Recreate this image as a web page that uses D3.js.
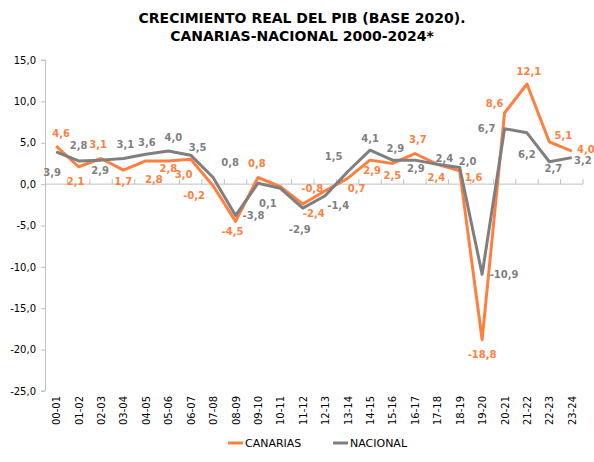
<!DOCTYPE html>
<html>
<head>
<meta charset="utf-8">
<script src="https://cdn.jsdelivr.net/npm/d3@7"></script>
<style>
  body { margin: 0; background: #fff; }
  text { font-family: "DejaVu Sans", Verdana, sans-serif; }
</style>
</head>
<body>
<div id="chart"></div>
<script>
const periodos = ["00-01","01-02","02-03","03-04","04-05","05-06","06-07","07-08","08-09","09-10","10-11","11-12",
                  "12-13","13-14","14-15","15-16","16-17","17-18","18-19","19-20","20-21","21-22","22-23","23-24"];
const canarias = [4.6, 2.1, 3.1, 1.7, 2.8, 2.8, 3.0, -0.2, -4.5, 0.8, -0.3, -2.4,
                  -0.8, 0.7, 2.9, 2.5, 3.7, 2.4, 1.6, -18.8, 8.6, 12.1, 5.1, 4.0];
const nacional = [3.9, 2.8, 2.9, 3.1, 3.6, 4.0, 3.5, 0.8, -3.8, 0.1, -0.5, -2.9,
                  -1.4, 1.5, 4.1, 2.9, 2.9, 2.4, 2.0, -10.9, 6.7, 6.2, 2.7, 3.2];
const yTicks = [15, 10, 5, 0, -5, -10, -15, -20, -25];

// desplazamiento de cada etiqueta respecto a su punto (null = sin etiqueta)
const posCanarias = [[5,-13],[-3,15],[-3,-14],[0,11],[8,18],[0,7],[-7,15],[-19,10],[-3,10],[-1,-14],null,[11,9],
                     [-13,-2],[9,10],[2,10],[0,12],[3,-14],[-1,13],[14,7],[0,15],[-10,-10],[2,-13],[14,-7],[14,-2]];
const posNacional = [[-4,21],[0,-16],[-1,10],[2,-14],[1,-12],[5,-14],[7,-8],[17,-15],[18,0],[10,20],null,[-3,21],
                     [13,10],[-14,-15],[0,-12],[3,-12],[1,8],[7,-6],[8,-6],[22,0],[-18,0],[0,22],[4,7],[11,3]];

const series = [
  { nombre: "CANARIAS", valores: canarias, pos: posCanarias, color: "#FF7F3F" },
  { nombre: "NACIONAL", valores: nacional, pos: posNacional, color: "#7F7F7F" }
];

const width = 594, height = 462;
const es = d3.formatLocale({ decimal: ",", thousands: ".", grouping: [3], currency: ["", "€"], minus: "-" });
const fmt = es.format(".1f");

const svg = d3.select("#chart").append("svg")
  .attr("width", width)
  .attr("height", height);

// titulo
const titulo = svg.append("text")
  .attr("text-anchor", "middle")
  .attr("font-size", "14px")
  .attr("font-weight", "bold")
  .attr("fill", "#000");
titulo.append("tspan").attr("x", 302).attr("y", 23).text("CRECIMIENTO REAL DEL PIB (BASE 2020).");
titulo.append("tspan").attr("x", 302).attr("y", 41).text("CANARIAS-NACIONAL 2000-2024*");

const x = d3.scaleBand()
  .domain(periodos)
  .range([45, 583]);

const y = d3.scaleLinear()
  .domain([-25, 15])
  .range([391, 60]);

// eje Y
const yAxis = svg.append("g")
  .attr("transform", "translate(45,0)")
  .call(d3.axisLeft(y).tickValues(yTicks).tickSize(4).tickPadding(5).tickFormat(fmt));
yAxis.select(".domain").attr("stroke", "#BFBFBF").attr("d", `M-4,${y(15)}H0.5V${y(-25)}H-4`);
yAxis.selectAll(".tick line").attr("stroke", "#BFBFBF");
yAxis.selectAll(".tick text").attr("font-size", "10px").attr("fill", "#000");

// eje X en el cero, con marcas entre categorias
const x0 = y(0);
svg.append("line")
  .attr("x1", 45).attr("x2", 583)
  .attr("y1", x0).attr("y2", x0)
  .attr("stroke", "#BFBFBF");
svg.append("g").selectAll("line")
  .data(periodos)
  .join("line")
  .attr("x1", d => x(d) + x.bandwidth())
  .attr("x2", d => x(d) + x.bandwidth())
  .attr("y1", x0).attr("y2", x0 - 5)
  .attr("stroke", "#BFBFBF");

// etiquetas de categoria abajo, giradas
svg.append("g").selectAll("text")
  .data(periodos)
  .join("text")
  .attr("transform", d => `translate(${x(d) + x.bandwidth() / 2 + 4},396) rotate(-90)`)
  .attr("text-anchor", "end")
  .attr("font-size", "10px")
  .attr("fill", "#000")
  .text(d => d);

const line = d3.line()
  .x((d, i) => x(periodos[i]) + x.bandwidth() / 2)
  .y(d => y(d));

series.forEach(s => {
  svg.append("path")
    .datum(s.valores)
    .attr("fill", "none")
    .attr("stroke", s.color)
    .attr("stroke-width", 3)
    .attr("stroke-linejoin", "round")
    .attr("d", line);
});

series.forEach(s => {
  svg.append("g").selectAll("text")
    .data(s.valores.map((v, i) => ({ v, i, p: s.pos[i] })).filter(d => d.p))
    .join("text")
    .attr("x", d => x(periodos[d.i]) + x.bandwidth() / 2 + d.p[0])
    .attr("y", d => y(d.v) + d.p[1])
    .attr("dy", "0.36em")
    .attr("text-anchor", "middle")
    .attr("font-size", "10px")
    .attr("font-weight", "bold")
    .attr("fill", s.color)
    .text(d => fmt(d.v));
});

// leyenda
const leyenda = svg.append("g").attr("transform", "translate(228,443)");
const item = leyenda.selectAll("g")
  .data(series)
  .join("g")
  .attr("transform", (d, i) => `translate(${i * 105},0)`);
item.append("line")
  .attr("x1", 0).attr("x2", 15)
  .attr("stroke", d => d.color)
  .attr("stroke-width", 3);
item.append("text")
  .attr("x", 17)
  .attr("dy", "0.36em")
  .attr("font-size", "11px")
  .attr("fill", "#000")
  .text(d => d.nombre);
</script>
</body>
</html>
